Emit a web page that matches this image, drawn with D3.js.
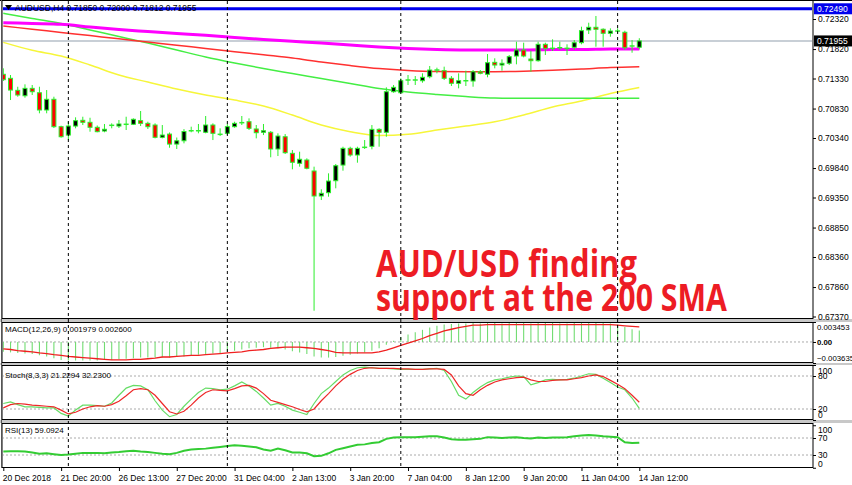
<!DOCTYPE html>
<html><head><meta charset="utf-8">
<script src="https://cdn.jsdelivr.net/npm/d3@7/dist/d3.min.js"></script>
<style>body{margin:0;background:#fff}svg{display:block}</style>
</head><body>
<svg id="c" width="852" height="485"></svg>
<script>
// ---------- DATA ----------
const openP  = [0.71400,0.71333,0.71133,0.71043,0.71166,0.71093,0.70806,0.70984,0.70528,0.70389,0.70539,0.70634,0.70601,0.70518,0.70456,0.70551,0.70539,0.70568,0.70568,0.70628,0.70584,0.70556,0.70351,0.70405,0.70239,0.70294,0.70461,0.70461,0.70435,0.70556,0.70401,0.70418,0.70528,0.70595,0.70611,0.70490,0.70435,0.70435,0.70157,0.70361,0.70085,0.69919,0.69974,0.69791,0.69375,0.69430,0.69629,0.69890,0.70168,0.70057,0.70185,0.70201,0.70484,0.70435,0.71110,0.71093,0.71305,0.71305,0.71293,0.71360,0.71471,0.71460,0.71333,0.71250,0.71293,0.71288,0.71443,0.71400,0.71599,0.71554,0.71583,0.71704,0.71804,0.71654,0.71626,0.71899,0.71832,0.71842,0.71832,0.71849,0.71926,0.72137,0.72182,0.72149,0.72082,0.72120,0.72099,0.71871,0.71850];
const highP  = [0.71499,0.71388,0.71193,0.71233,0.71222,0.71193,0.71138,0.71027,0.70545,0.70611,0.70684,0.70694,0.70677,0.70548,0.70573,0.70584,0.70639,0.70694,0.70667,0.70789,0.70611,0.70584,0.70556,0.70432,0.70348,0.70488,0.70528,0.70573,0.70706,0.70584,0.70501,0.70573,0.70611,0.70706,0.70667,0.70556,0.70573,0.70456,0.70418,0.70406,0.70140,0.70112,0.70002,0.69863,0.69486,0.69752,0.69907,0.70195,0.70195,0.70195,0.70306,0.70556,0.70501,0.71183,0.71222,0.71333,0.71388,0.71371,0.71416,0.71538,0.71510,0.71527,0.71371,0.71416,0.71460,0.71471,0.71471,0.71737,0.71666,0.71649,0.71721,0.71942,0.71926,0.71792,0.71942,0.71926,0.71982,0.71942,0.71899,0.71970,0.72192,0.72258,0.72370,0.72165,0.72165,0.72165,0.72125,0.71970,0.72000];
const lowP   = [0.71288,0.70972,0.71027,0.71010,0.71055,0.70751,0.70751,0.70506,0.70345,0.70306,0.70501,0.70556,0.70445,0.70435,0.70435,0.70501,0.70506,0.70473,0.70556,0.70539,0.70490,0.70334,0.70334,0.70178,0.70157,0.70251,0.70435,0.70418,0.70418,0.70306,0.70373,0.70389,0.70511,0.70556,0.70473,0.70334,0.70389,0.70019,0.70040,0.70074,0.69819,0.69863,0.69819,0.67466,0.69308,0.69363,0.69503,0.69796,0.70029,0.69929,0.70157,0.70151,0.70195,0.70361,0.71093,0.71083,0.71222,0.71222,0.71260,0.71333,0.71416,0.71305,0.71205,0.71166,0.71205,0.71193,0.71400,0.71350,0.71499,0.71460,0.71554,0.71566,0.71682,0.71443,0.71610,0.71721,0.71787,0.71804,0.71721,0.71804,0.71899,0.72070,0.71859,0.71859,0.72025,0.72082,0.71804,0.71759,0.71812];
const closeP = [0.71310,0.71138,0.71055,0.71166,0.71110,0.70806,0.70984,0.70528,0.70361,0.70539,0.70628,0.70601,0.70518,0.70445,0.70485,0.70551,0.70573,0.70568,0.70651,0.70584,0.70528,0.70351,0.70389,0.70239,0.70294,0.70448,0.70461,0.70461,0.70556,0.70418,0.70401,0.70528,0.70584,0.70595,0.70501,0.70428,0.70461,0.70157,0.70373,0.70095,0.69936,0.69986,0.69836,0.69375,0.69420,0.69624,0.69879,0.70168,0.70057,0.70168,0.70185,0.70484,0.70435,0.71110,0.71183,0.71293,0.71305,0.71305,0.71350,0.71471,0.71471,0.71333,0.71250,0.71293,0.71293,0.71443,0.71416,0.71593,0.71554,0.71583,0.71693,0.71804,0.71704,0.71626,0.71899,0.71832,0.71832,0.71842,0.71832,0.71926,0.72126,0.72182,0.72149,0.72082,0.72120,0.72120,0.71842,0.71871,0.71955];

const maIdx   = [0,4,8,12,16,20,24,28,32,36,40,44,48,52,56,60,64,68,72,76,80,84,88];
const sma200  = [0.72258,0.72245,0.72232,0.72187,0.72145,0.72112,0.72079,0.72049,0.72012,0.71979,0.71949,0.71920,0.71887,0.71854,0.71829,0.71812,0.71804,0.71804,0.71804,0.71812,0.71812,0.71821,0.71821];
const sma100  = [0.72203,0.72150,0.72097,0.72044,0.71990,0.71937,0.71882,0.71831,0.71777,0.71724,0.71671,0.71604,0.71546,0.71496,0.71463,0.71446,0.71443,0.71443,0.71450,0.71466,0.71488,0.71513,0.71526];
const sma50   = [0.72415,0.72328,0.72245,0.72137,0.72029,0.71920,0.71804,0.71688,0.71588,0.71496,0.71413,0.71330,0.71247,0.71163,0.71105,0.71064,0.71030,0.71005,0.71000,0.71000,0.71000,0.71000,0.71000];
const smaYel  = [0.71931,0.71799,0.71704,0.71554,0.71388,0.71271,0.71155,0.71055,0.70972,0.70872,0.70722,0.70556,0.70445,0.70381,0.70401,0.70473,0.70539,0.70611,0.70722,0.70856,0.70955,0.71080,0.71180];

const macdMain = [-0.0017,-0.0018,-0.0019,-0.0020,-0.0021,-0.0023,-0.0025,-0.0028,-0.0031,-0.0032,-0.0032,-0.0032,-0.0032,-0.0032,-0.0031,-0.0031,-0.0030,-0.0029,-0.0028,-0.0027,-0.0027,-0.0027,-0.0027,-0.0027,-0.0026,-0.0025,-0.0024,-0.0022,-0.0021,-0.0020,-0.0019,-0.0017,-0.0015,-0.0013,-0.0011,-0.0010,-0.0009,-0.0010,-0.0011,-0.0013,-0.0016,-0.0018,-0.0021,-0.0025,-0.0027,-0.0027,-0.0026,-0.0024,-0.0022,-0.0020,-0.0018,-0.0015,-0.0011,-0.0005,0.0002,0.0008,0.0013,0.0017,0.0021,0.0025,0.0028,0.0030,0.0031,0.0032,0.0032,0.0033,0.0032,0.0033,0.0033,0.0032,0.0033,0.0033,0.0033,0.0032,0.0033,0.0033,0.0033,0.0032,0.0032,0.0033,0.0033,0.0034,0.0033,0.0033,0.0032,0.0030,0.0026,0.0022,0.001979];
const macdSig  = [-0.0012,-0.0013,-0.0015,-0.0016,-0.0017,-0.0019,-0.0020,-0.0022,-0.0023,-0.0025,-0.0026,-0.0027,-0.0028,-0.0029,-0.0030,-0.0031,-0.0031,-0.0031,-0.0030,-0.0030,-0.0029,-0.0028,-0.0026,-0.0026,-0.0025,-0.0024,-0.0023,-0.0023,-0.0022,-0.0021,-0.0020,-0.0019,-0.0018,-0.0017,-0.0015,-0.0014,-0.0013,-0.0011,-0.0010,-0.0009,-0.0009,-0.0009,-0.0010,-0.0011,-0.0013,-0.0015,-0.0018,-0.0019,-0.0019,-0.0019,-0.0019,-0.0019,-0.0017,-0.0014,-0.0010,-0.0006,-0.0002,0.0002,0.0006,0.0011,0.0015,0.0019,0.0022,0.0025,0.0027,0.0029,0.0029,0.0030,0.0030,0.0030,0.0030,0.0030,0.0030,0.0030,0.0030,0.0030,0.0030,0.0030,0.0030,0.0030,0.0030,0.0030,0.0030,0.0030,0.0030,0.0029,0.0028,0.0027,0.0026];

const stochMain = [30,33,28,24,24,23,22,22,12,7,18,27,27,26,25,31,45,58,63,62,55,35,18,6,10,25,38,50,58,57,55,56,62,69,62,52,40,27,30,25,18,14,10,30,48,58,70,82,90,95,96,95,94,94,93,92,92,92,92,93,94,90,70,45,38,50,60,68,73,75,78,80,79,64,68,73,74,73,74,76,80,84,83,76,68,60,55,40,21.2294];
const stochSig  = [22,28,30,29,27,26,25,24,18,11,14,20,24,26,25,28,34,44,55,57,55,45,30,15,11,16,27,40,50,55,54,53,57,62,63,58,48,36,32,28,24,19,15,20,35,48,62,74,83,90,94,95,94,94,94,93,93,92,92,93,93,92,82,62,48,45,55,63,69,73,75,77,78,73,70,70,72,73,73,75,77,80,82,79,72,65,57,45,32.23];

const rsi = [38,39,39,38,36,33,34,32,30,31,33,35,35,35,34,36,37,39,40,38,37,35,33,32,35,40,43,44,45,47,49,51,53,52,50,48,43,40,45,41,36,36,34,27,28,34,42,46,50,54,55,58,60,68,71,72,72,72,73,74,74,71,67,66,66,67,68,72,71,70,71,72,70,69,71,70,71,71,72,74,76,77,76,74,73,72,60,58,59.0924];

const priceTicks = [0.72320,0.71820,0.71330,0.70830,0.70340,0.69840,0.69350,0.68850,0.68360,0.67860,0.67370];
const timeIdx    = [0,8,16,24,32,40,48,56,64,72,80,88];
const timeLabels = ["20 Dec 2018","21 Dec 20:00","26 Dec 13:00","27 Dec 20:00","31 Dec 04:00","2 Jan 13:00","3 Jan 20:00","7 Jan 04:00","8 Jan 12:00","9 Jan 20:00","11 Jan 04:00","14 Jan 12:00"];
const sepIdx     = [9,31,55,85];
const askLine = 0.72490, lastPrice = 0.71955;

// ---------- LAYOUT ----------
const svg = d3.select("#c");
const L = 2, R = 813;
const P = {main:[0,319], macd:[322,363], stoch:[365,420], rsi:[423,468]};
const font = "'Liberation Sans', Arial, sans-serif";

const x = d3.scaleLinear().domain([0,88]).range([3.3,639.3]);
const y = d3.scaleLinear().domain([0.67370,0.72320]).range([316.5,19]);
const yM = d3.scaleLinear().domain([-0.003635,0.003453]).range([363,322]);
const yS = d3.scaleLinear().domain([0,100]).range([420,365]);
const yR = d3.scaleLinear().domain([0,100]).range([467.75,425.25]);

svg.append("rect").attr("x",0).attr("y",0).attr("width",852).attr("height",485).attr("fill","#fff");
[[319,322],[363,365],[420,423]].forEach(([a,b])=>{
  svg.append("rect").attr("x",0).attr("y",a).attr("width",852).attr("height",b-a).attr("fill","#c8c8c8");
});
Object.values(P).forEach(([a,b])=>{
  svg.append("rect").attr("x",L).attr("y",a+0.5).attr("width",R-L).attr("height",b-a-1)
    .attr("fill","#fff").attr("stroke","#000").attr("stroke-width",1);
});
svg.append("line").attr("x1",0).attr("x2",852).attr("y1",0.5).attr("y2",0.5).attr("stroke","#000");

const defs = svg.append("defs");
Object.entries(P).forEach(([k,[a,b]])=>{
  defs.append("clipPath").attr("id","cl-"+k).append("rect").attr("x",L+1).attr("y",a+1).attr("width",R-L-2).attr("height",b-a-2);
});
const gMain = svg.append("g").attr("clip-path","url(#cl-main)");
const gMacd = svg.append("g").attr("clip-path","url(#cl-macd)");
const gSto  = svg.append("g").attr("clip-path","url(#cl-stoch)");
const gRsi  = svg.append("g").attr("clip-path","url(#cl-rsi)");

function hdot(g,yy){ g.append("line").attr("x1",L).attr("x2",R).attr("y1",yy).attr("y2",yy)
  .attr("stroke","#aaa").attr("stroke-dasharray","2,2").attr("stroke-width",1); }
hdot(gMacd,yM(0)); hdot(gSto,yS(80)); hdot(gSto,yS(20)); hdot(gRsi,yR(70)); hdot(gRsi,yR(30));

sepIdx.forEach(i=>{
  svg.append("line").attr("x1",x(i)).attr("x2",x(i)).attr("y1",1).attr("y2",468)
    .attr("stroke","#000").attr("stroke-dasharray","3,3").attr("stroke-width",1);
});

gMain.append("line").attr("x1",L).attr("x2",R).attr("y1",y(lastPrice)).attr("y2",y(lastPrice))
  .attr("stroke","#b6bfc8").attr("stroke-width",1.5);
gMain.append("line").attr("x1",L).attr("x2",R).attr("y1",y(askLine)).attr("y2",y(askLine))
  .attr("stroke","#0000ee").attr("stroke-width",3);

function maLine(vals,color,w){
  gMain.append("path").datum(maIdx.map((d,i)=>[d,vals[i]]))
   .attr("d",d3.line().x(d=>x(d[0])).y(d=>y(d[1])).curve(d3.curveMonotoneX))
   .attr("fill","none").attr("stroke",color).attr("stroke-width",w);
}
maLine(smaYel,"#f6f63a",1.5);
maLine(sma50,"#44ee44",1.5);
maLine(sma100,"#ff3030",1.5);
maLine(sma200,"#ff00ff",3);

const green = "#2cee2c";
const cg = gMain.append("g");
openP.forEach((o,i)=>{
  const c = closeP[i], cx = x(i);
  cg.append("line").attr("x1",cx).attr("x2",cx).attr("y1",y(highP[i])).attr("y2",y(lowP[i]))
    .attr("stroke",green).attr("stroke-width",1);
  const top = y(Math.max(o,c)), bot = y(Math.min(o,c));
  if (bot - top < 1.2) {
    cg.append("line").attr("x1",cx-2.5).attr("x2",cx+2.5).attr("y1",(top+bot)/2).attr("y2",(top+bot)/2)
      .attr("stroke",green).attr("stroke-width",1.5);
  } else {
    cg.append("rect").attr("x",cx-2).attr("width",4).attr("y",top).attr("height",bot-top)
      .attr("fill", c>=o ? "#000" : "#ff0000").attr("stroke",green).attr("stroke-width",1);
  }
});

gMacd.selectAll("line.h").data(macdMain).join("line").attr("class","h")
  .attr("x1",(d,i)=>x(i)).attr("x2",(d,i)=>x(i)).attr("y1",yM(0)).attr("y2",d=>yM(d))
  .attr("stroke","#72dc72").attr("stroke-width",1.1);
gMacd.append("path").datum(macdSig).attr("d",d3.line().x((d,i)=>x(i)).y(d=>yM(d)))
  .attr("fill","none").attr("stroke","#f02020").attr("stroke-width",1.3);

gSto.append("path").datum(stochMain).attr("d",d3.line().x((d,i)=>x(i)).y(d=>yS(d)))
  .attr("fill","none").attr("stroke","#66dd66").attr("stroke-width",1.2);
gSto.append("path").datum(stochSig).attr("d",d3.line().x((d,i)=>x(i)).y(d=>yS(d)))
  .attr("fill","none").attr("stroke","#ee2828").attr("stroke-width",1.2);

gRsi.append("path").datum(rsi).attr("d",d3.line().x((d,i)=>x(i)).y(d=>yR(d)))
  .attr("fill","none").attr("stroke","#33cc33").attr("stroke-width",2);

// ---------- AXES ----------
function styleAxis(g,fs){
  g.select(".domain").remove();
  g.selectAll("text").attr("font-family",font).attr("font-size",(fs||8.5)+"px").attr("fill","#000");
  g.selectAll("line").attr("stroke","#000");
}
const ax = svg.append("g").attr("transform",`translate(${R},0)`)
  .call(d3.axisRight(y).tickValues(priceTicks).tickFormat(d3.format(".5f")).tickSize(3).tickPadding(2));
styleAxis(ax);

const axM = svg.append("g").attr("transform",`translate(${R},0)`)
  .call(d3.axisRight(yM).tickValues([0.003453,0,-0.003635]).tickFormat(d=>d===0?"0.00":d3.format(".6f")(d)).tickSize(3).tickPadding(1));
styleAxis(axM,7.8);
axM.selectAll("text").attr("dy",(d)=> d>0 ? "0.9em" : d<0 ? "-0.3em" : "0.32em");
axM.selectAll("text").filter(d=>d===0).attr("font-weight","bold");

const axS = svg.append("g").attr("transform",`translate(${R},0)`)
  .call(d3.axisRight(yS).tickValues([100,80,20,0]).tickSize(3).tickPadding(2));
styleAxis(axS);
axS.selectAll("text").attr("dy",d=> d===100?"0.95em": d===0?"-0.25em":"0.32em");

const axR = svg.append("g").attr("transform",`translate(${R},0)`)
  .call(d3.axisRight(yR).tickValues([100,70,30,0]).tickSize(3).tickPadding(2));
styleAxis(axR);
axR.selectAll("text").attr("dy",d=> d===100?"0.8em": d===0?"-0.2em":"0.32em");

function tag(v,bg){
  const yy = y(v);
  svg.append("rect").attr("x",R+1).attr("y",yy-5.5).attr("width",38).attr("height",11).attr("fill",bg);
  svg.append("text").attr("x",R+4).attr("y",yy+3.2).attr("font-family",font).attr("font-size","8.5px")
    .attr("fill","#fff").text(d3.format(".5f")(v));
}
tag(askLine,"#0000ee");
tag(lastPrice,"#000");

const axT = svg.append("g").attr("transform","translate(0,468)")
  .call(d3.axisBottom(x).tickValues(timeIdx).tickFormat((d,i)=>timeLabels[i]).tickSize(3).tickPadding(4));
styleAxis(axT);
axT.selectAll("text").attr("text-anchor","start").attr("dx","-1");

svg.append("line").attr("x1",1.5).attr("x2",1.5).attr("y1",0).attr("y2",468).attr("stroke","#555");

// ---------- TEXTS ----------
svg.append("path").attr("d","M5,5 L12,5 L8.5,10 Z").attr("fill","#000");
svg.append("text").attr("x",15).attr("y",11).attr("font-family",font).attr("font-size","8.5px")
  .text("AUDUSD,H4  0.71850 0.72000 0.71812 0.71955");
svg.append("text").attr("x",5).attr("y",332).attr("font-family",font).attr("font-size","8px")
  .text("MACD(12,26,9) 0.001979 0.002600");
svg.append("text").attr("x",5).attr("y",378).attr("font-family",font).attr("font-size","8px")
  .text("Stoch(8,3,3) 21.2294 32.2300");
svg.append("text").attr("x",5).attr("y",433).attr("font-family",font).attr("font-size","8px")
  .text("RSI(13) 59.0924");

const red = "#ed1c24";
svg.append("text").attr("x",376).attr("y",277).attr("font-family","'Open Sans', sans-serif")
  .attr("font-weight","bold").attr("font-size","37px").attr("fill",red)
  .attr("textLength",261).attr("lengthAdjust","spacingAndGlyphs").text("AUD/USD finding");
svg.append("text").attr("x",376).attr("y",311).attr("font-family","'Open Sans', sans-serif")
  .attr("font-weight","bold").attr("font-size","37px").attr("fill",red)
  .attr("textLength",351).attr("lengthAdjust","spacingAndGlyphs").text("support at the 200 SMA");
</script>
</body></html>
